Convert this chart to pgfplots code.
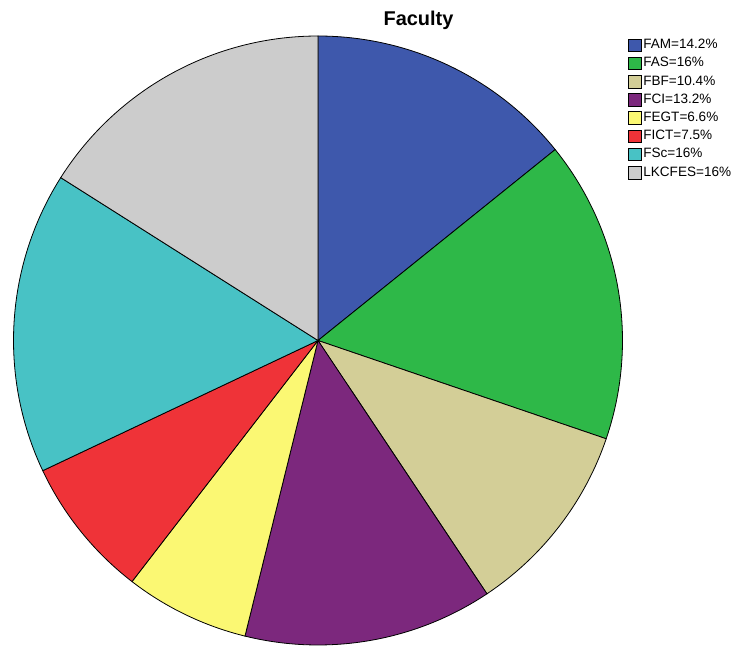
\documentclass[border=0pt]{standalone}
\usepackage{pgfplots}
\pgfplotsset{compat=1.18}
\usepackage{fontspec}
\setmainfont{Liberation Sans}
\definecolor{cFAM}{HTML}{3E58AC}
\definecolor{cFAS}{HTML}{2EB848}
\definecolor{cFBF}{HTML}{D3CE97}
\definecolor{cFCI}{HTML}{7C287D}
\definecolor{cFEGT}{HTML}{FBF873}
\definecolor{cFICT}{HTML}{EF3338}
\definecolor{cFSc}{HTML}{48C2C5}
\definecolor{cLK}{HTML}{CCCCCC}
% start (cumulative %), value (%), colour, label
\newcommand{\slice}[4]{%
  \addplot[fill=#3, draw=black, line width=0.8bp, domain={(#1)*3.6/0.999}:{(#1+#2)*3.6/0.999}, samples=90, variable=\t]
    ({sin(\t)},{cos(\t)}) -- (axis cs:0,0) -- cycle;
  \addlegendentry{#4}}
\begin{document}
\begin{tikzpicture}
\path[use as bounding box] (0,0) rectangle (734bp,647bp);
\node[anchor=base, font=\bfseries\fontsize{20}{23}\selectfont] at (418.5bp,621.3bp) {Faculty};
\begin{axis}[
  at={(318bp,306.5bp)}, anchor=center,
  scale only axis, width=609bp, height=609bp,
  xmin=-1, xmax=1, ymin=-1, ymax=1,
  hide axis, clip=false,
  legend style={at={(1.009,0.996)}, anchor=north west, draw=none, fill=none,
    inner sep=0pt, row sep=5bp, column sep=2bp,
    font=\fontsize{13.6}{16}\selectfont,
    nodes={inner sep=0pt, text height=10bp, text depth=3bp}},
  legend cell align=left,
  legend image code/.code={\draw[#1, draw=black, line width=0.6bp] (0bp,-6.3bp) rectangle (12.6bp,6.3bp);},
]
\slice{0}{14.2}{cFAM}{FAM=14.2\%}
\slice{14.2}{16}{cFAS}{FAS=16\%}
\slice{30.2}{10.4}{cFBF}{FBF=10.4\%}
\slice{40.6}{13.2}{cFCI}{FCI=13.2\%}
\slice{53.8}{6.6}{cFEGT}{FEGT=6.6\%}
\slice{60.4}{7.5}{cFICT}{FICT=7.5\%}
\slice{67.9}{16}{cFSc}{FSc=16\%}
\slice{83.9}{16}{cLK}{LKCFES=16\%}
\end{axis}
\end{tikzpicture}
\end{document}
